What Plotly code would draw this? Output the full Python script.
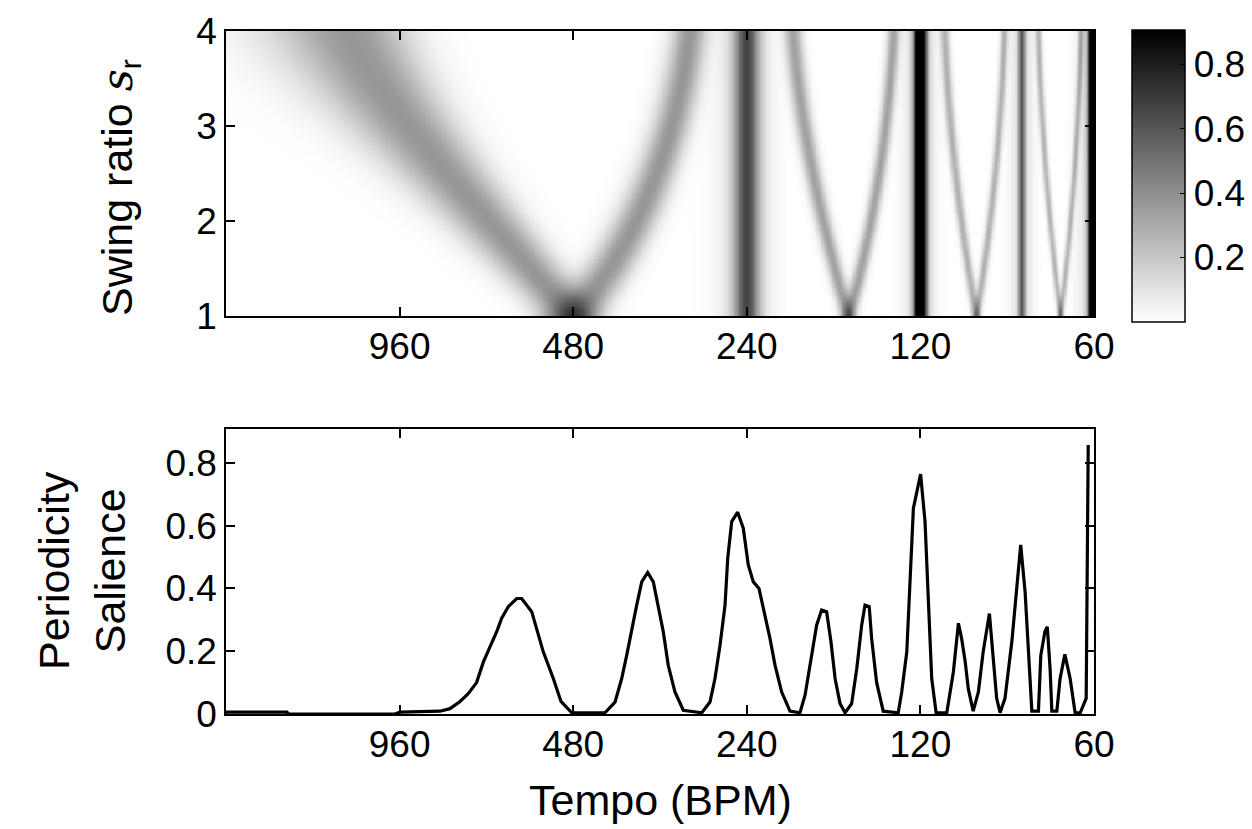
import numpy as np
import plotly.graph_objects as go

# ---------------- tick labels / ranges ----------------
TEMPO_TICKS = [960, 480, 240, 120, 60]
SWING_TICKS = [1, 2, 3, 4]
SAL_TICKS = [0, 0.2, 0.4, 0.6, 0.8]
CBAR_TICKS = [0.2, 0.4, 0.6, 0.8]
TEMPO_RANGE = [1920, 60]
SWING_RANGE = [1, 4]
SAL_RANGE = [0, 0.908]
Z_MAX = 0.906

# ---------------- bottom panel: periodicity salience ----------------
CURVE_BPM = [1920, 1505, 1495, 978, 958, 817, 785, 754, 730, 706, 687, 669, 651.5, 638.6, 622, 601.5,
             589.6, 566.5, 555.3, 540.9, 519.7, 504, 482.8, 422.8, 406.2, 395.5, 387.7, 380, 372.5,
             365.1, 356.5, 348.6, 341.7, 335, 328.4, 319.7, 309.3, 287.3, 278, 272.5, 267.1, 261.8,
             259, 254.9, 248.9, 243.4, 238.6, 233.8, 228.6, 223.2, 218.8, 214.4, 208.8, 202, 194.1,
             190.2, 185.2, 181.6, 178, 174.5, 171.5, 168.7, 165.4, 162.1, 157.9, 154.7, 151.7, 149.7,
             147.2, 145.8, 142.9, 139.2, 131.1, 129.3, 126.7, 125.1, 123.4, 121.0, 119.9, 117.8,
             116.3, 114.7, 112.7, 108, 105.2, 103.1, 101.8, 100.4, 99.1, 97.2, 95.2, 93.4, 91.1,
             89.7, 88.5, 87.3, 85.6, 83.3, 81.7, 80.4, 79.0, 77.7, 76.9, 74.9, 74.2, 73.0, 72.3,
             71.5, 71.0, 69.6, 68.7, 67.4, 66.0, 64.7, 63.4, 61.9, 61.6, 61.4]
CURVE_SAL = [0.006, 0.006, 0.0, 0.0, 0.006, 0.009, 0.017, 0.04, 0.065, 0.10, 0.166, 0.214, 0.262, 0.305,
             0.342, 0.368, 0.368, 0.326, 0.272, 0.198, 0.113, 0.04, 0.004, 0.004, 0.038, 0.113,
             0.187, 0.272, 0.347, 0.421, 0.451, 0.421, 0.347, 0.262, 0.155, 0.07, 0.012, 0.004,
             0.038, 0.113, 0.219, 0.347, 0.496, 0.613, 0.643, 0.592, 0.475, 0.421, 0.40, 0.315,
             0.241, 0.155, 0.07, 0.009, 0.004, 0.06, 0.187, 0.283, 0.331, 0.326, 0.23, 0.113,
             0.033, 0.004, 0.033, 0.145, 0.283, 0.347, 0.342, 0.241, 0.10, 0.009, 0.004, 0.07,
             0.198, 0.443, 0.656, 0.73, 0.764, 0.613, 0.347, 0.113, 0.004, 0.004, 0.134, 0.289,
             0.241, 0.17, 0.08, 0.009, 0.07, 0.198, 0.32, 0.177, 0.05, 0.004, 0.05, 0.23, 0.389,
             0.539, 0.389, 0.177, 0.009, 0.009, 0.187, 0.262, 0.278, 0.145, 0.009, 0.009, 0.113,
             0.19, 0.113, 0.004, 0.004, 0.05, 0.453, 0.857]

# ---------------- top panel: ridge parameters ----------------
# straight (swing-independent) ridges
VLINE_BPM = [240, 120, 80, 60]
VLINE_PEAK = [0.52, 1.30, 0.50, 1.60]
VLINE_WIDTH = [0.0085, 0.008, 0.007, 0.014]      # s (lag domain)
VLINE_HALO = [0.14, 0.15, 0.13, 0.15]
VLINE_HALO_WIDTH = [0.017, 0.02, 0.022, 0.04]
# V-shaped (swing-dependent) ridges
VSHAPE_BPM = [480, 160, 96, 68.57]
VSHAPE_ARM = [0.37, 0.33, 0.28, 0.27]
VSHAPE_WIDTH = [0.0095, 0.0075, 0.0072, 0.0072]
ARM_SWING = [1, 2, 3, 4]
ARM_OFFSET = [0.0, 0.038, 0.058, 0.075]          # s, lag offset of each arm

# ---------------- build heatmap table ----------------
tempo_grid = np.geomspace(TEMPO_RANGE[0], TEMPO_RANGE[1], 700)
swing_grid = np.linspace(SWING_RANGE[0], SWING_RANGE[1], 121)
lag = 60.0 / tempo_grid
Z = np.zeros((swing_grid.size, tempo_grid.size))
for bpm, pk, w, h, hw in zip(VLINE_BPM, VLINE_PEAK, VLINE_WIDTH, VLINE_HALO, VLINE_HALO_WIDTH):
    l0 = 60.0 / bpm
    Z += pk * np.exp(-0.5 * ((lag - l0) / w) ** 2)[None, :]
    Z += h * np.exp(-0.5 * ((lag - l0) / hw) ** 2)[None, :]
arm_fit = np.polyfit(ARM_SWING, ARM_OFFSET, 2)
off = np.clip(np.polyval(arm_fit, swing_grid), 0, None)[:, None]
for bpm, a, w in zip(VSHAPE_BPM, VSHAPE_ARM, VSHAPE_WIDTH):
    l0 = 60.0 / bpm
    Z += a * np.exp(-0.5 * ((lag[None, :] - (l0 - off)) / w) ** 2)
    Z += a * np.exp(-0.5 * ((lag[None, :] - (l0 + off)) / w) ** 2)
Z = np.round(np.minimum(Z, Z_MAX), 4)

# ---------------- figure ----------------
W, H = 1252, 829
FONT = "Liberation Sans, Arial, sans-serif"
TICK_SIZE = 37
LABEL_SIZE = 43
xdom = [226 / W, 1094 / W]
top_dom = [(H - 316) / H, (H - 31) / H]
bot_dom = [(H - 714) / H, (H - 429) / H]

fig = go.Figure()
fig.add_trace(go.Heatmap(
    x=tempo_grid, y=swing_grid, z=Z, xaxis="x", yaxis="y",
    colorscale=[[0, "#ffffff"], [1, "#000000"]], zmin=0, zmax=Z_MAX,
    hoverinfo="skip",
    colorbar=dict(
        x=1132 / W, xanchor="left", xpad=0, ypad=0,
        y=(H - 176) / H, yanchor="middle", len=292 / H, lenmode="fraction",
        thickness=53, thicknessmode="pixels",
        outlinewidth=1.5, outlinecolor="black",
        tickvals=CBAR_TICKS, ticktext=[f"{v:.1f}" for v in CBAR_TICKS],
        ticks="inside", ticklen=5, tickcolor="black",
        tickfont=dict(family=FONT, size=TICK_SIZE, color="black"),
    ),
))
fig.add_trace(go.Scatter(
    x=CURVE_BPM, y=CURVE_SAL, xaxis="x2", yaxis="y2", mode="lines",
    line=dict(color="black", width=3.2), showlegend=False, hoverinfo="skip",
))

common_x = dict(
    type="log", range=[np.log10(TEMPO_RANGE[0]), np.log10(TEMPO_RANGE[1])], domain=xdom,
    tickvals=TEMPO_TICKS, ticktext=[str(t) for t in TEMPO_TICKS],
    ticks="inside", ticklen=9, tickwidth=1.5, tickcolor="black",
    showline=True, linecolor="black", linewidth=1.5, mirror="ticks",
    showgrid=False, zeroline=False, ticklabelstandoff=-3,
    tickfont=dict(family=FONT, size=TICK_SIZE, color="black"),
)
common_y = dict(
    ticks="inside", ticklen=9, tickwidth=1.5, tickcolor="black",
    showline=True, linecolor="black", linewidth=1.5, mirror="ticks",
    showgrid=False, zeroline=False, ticklabelstandoff=0,
    tickfont=dict(family=FONT, size=TICK_SIZE, color="black"),
)
fig.update_layout(
    width=W, height=H, autosize=False,
    margin=dict(l=0, r=0, t=0, b=0, autoexpand=False),
    paper_bgcolor="white", plot_bgcolor="white",
    showlegend=False,
    xaxis=dict(common_x, anchor="y"),
    yaxis=dict(common_y, anchor="x", domain=top_dom, range=SWING_RANGE,
               tickvals=SWING_TICKS, ticktext=[str(v) for v in SWING_TICKS]),
    xaxis2=dict(common_x, anchor="y2"),
    yaxis2=dict(common_y, anchor="x2", domain=bot_dom, range=SAL_RANGE,
                tickvals=SAL_TICKS, ticktext=["0", "0.2", "0.4", "0.6", "0.8"]),
    annotations=[
        dict(text="Swing ratio <span style=\"font-family:'DejaVu Serif'\"><i>s</i></span><sub>r</sub>",
             x=120 / W, y=(H - 188) / H, xref="paper", yref="paper",
             textangle=-90, showarrow=False, xanchor="center", yanchor="middle",
             font=dict(family=FONT, size=LABEL_SIZE, color="black")),
        dict(text="Periodicity<br>Salience",
             x=82 / W, y=(H - 571) / H, xref="paper", yref="paper",
             textangle=-90, showarrow=False, xanchor="center", yanchor="middle",
             font=dict(family=FONT, size=LABEL_SIZE, color="black")),
        dict(text="Tempo (BPM)",
             x=660 / W, y=(H - 800) / H, xref="paper", yref="paper",
             showarrow=False, xanchor="center", yanchor="middle",
             font=dict(family=FONT, size=LABEL_SIZE, color="black")),
    ],
)
fig.write_html("out.html")
